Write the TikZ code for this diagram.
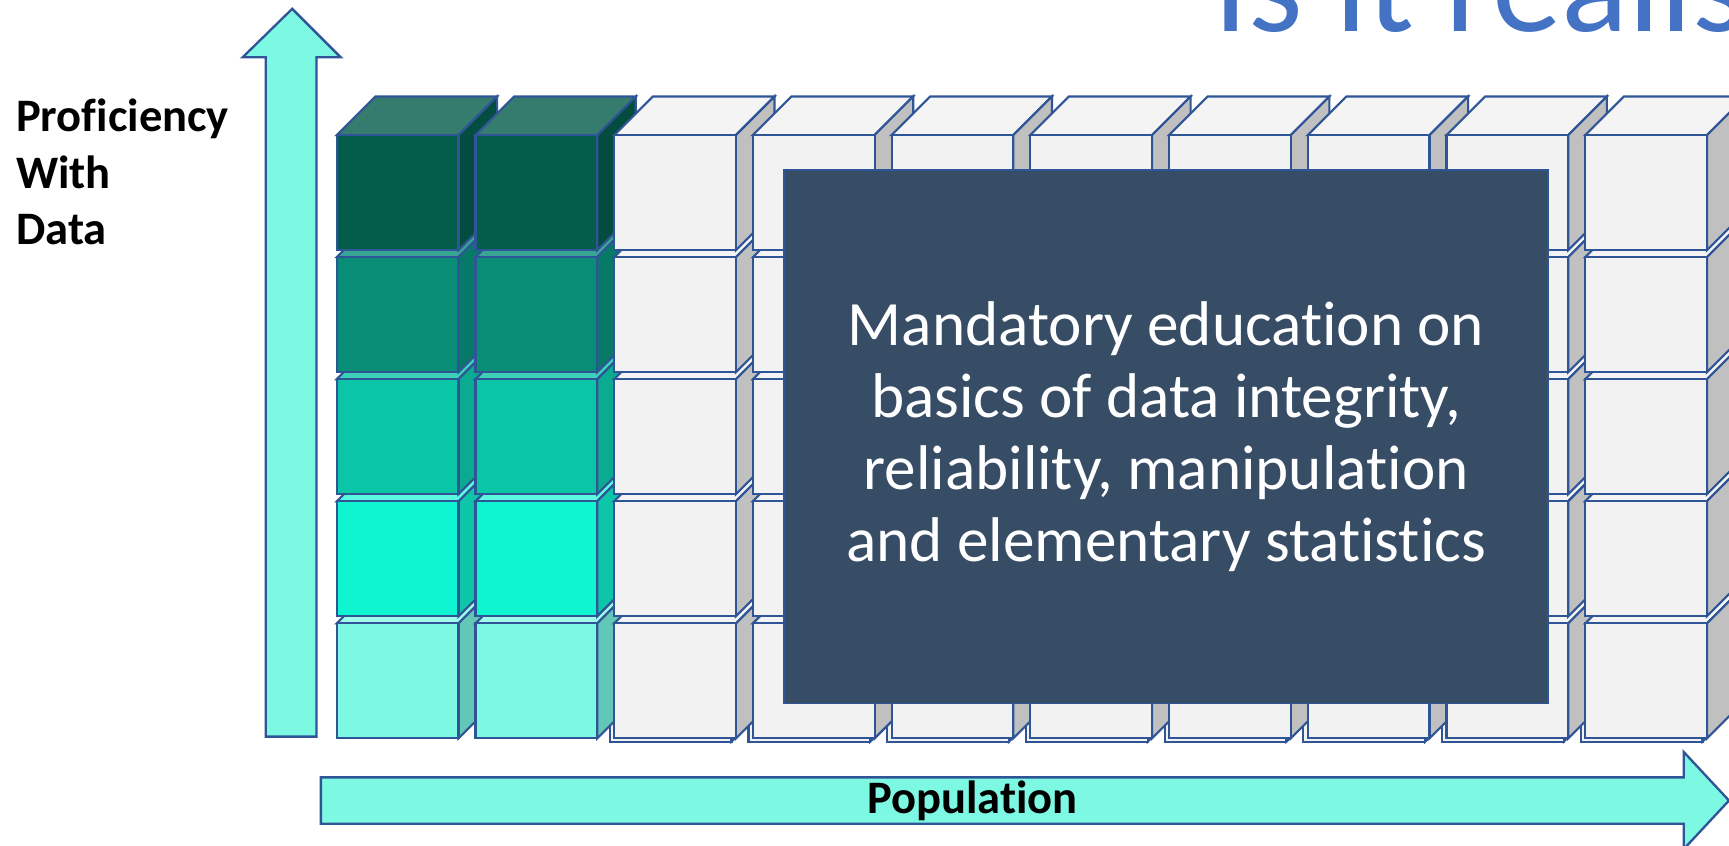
\documentclass[tikz,border=0pt]{standalone}
\usepackage{fontspec}
\setmainfont{Carlito}[Ligatures=CommonOff,RawFeature={-liga;-clig;-calt;-dlig}]

\definecolor{edgeblue}{HTML}{2F5597}
\definecolor{aqua}{HTML}{7DF9E3}
\definecolor{slate}{HTML}{374D66}
\definecolor{titleblue}{HTML}{4472C4}
% teal rows, top (a) to bottom (e): front / side / top
\definecolor{rowa}{HTML}{045C4B}\definecolor{rowas}{HTML}{034C3F}\definecolor{rowat}{HTML}{357C6F}
\definecolor{rowb}{HTML}{088E77}\definecolor{rowbs}{HTML}{077A67}\definecolor{rowbt}{HTML}{38A592}
\definecolor{rowc}{HTML}{0BC5A7}\definecolor{rowcs}{HTML}{0AAB90}\definecolor{rowct}{HTML}{3DD1B9}
\definecolor{rowd}{HTML}{10F5D1}\definecolor{rowds}{HTML}{0DC6A9}\definecolor{rowdt}{HTML}{5AF8DF}
\definecolor{rowe}{HTML}{7DF9E3}\definecolor{rowes}{HTML}{62C7B6}\definecolor{rowet}{HTML}{A0FBEC}
\definecolor{blank}{HTML}{F2F2F2}\definecolor{blanks}{HTML}{C0C0C0}\definecolor{blankt}{HTML}{F4F4F4}

\tikzset{>=latex,
  cubeline/.style={draw=edgeblue,line width=.55pt,line join=miter},
  axisarrow/.style={draw=edgeblue,fill=aqua,line width=.6pt},
  axislabel/.style={font=\fontsize{12}{14.6}\selectfont\bfseries,inner sep=0pt},
  titletext/.style={font=\fontsize{36}{40}\selectfont,text=titleblue,inner sep=0pt,anchor=base west},
  noticebox/.style={draw=edgeblue,fill=slate,line width=.5pt},
  noticetext/.style={font=\fontsize{16.3}{18.6}\selectfont,text=white,align=center,inner sep=0pt}
}

% front x, front top y, front, side, top colour
\newcommand{\drawcube}[5]{%
  \filldraw[cubeline,fill=#5] (#1,#2) -- ++(35,-35) -- ++(110.4,0) -- ++(-35,35) -- cycle;
  \filldraw[cubeline,fill=#4] (#1+110.4,#2) -- ++(35,-35) -- ++(0,104.3) -- ++(-35,35) -- cycle;
  \filldraw[cubeline,fill=#3] (#1,#2) rectangle ++(110.4,104.3);
}

\begin{document}
\begin{tikzpicture}[x=0.01cm,y=-0.01cm]
    \useasboundingbox (0,0) rectangle (1568,767);
    \clip (0,0) rectangle (1568,767);
    \node[titletext] (title) at (1100,29) {Is it realis};
    % axes
    \filldraw[axisarrow] (241,668) -- (241,52) -- (220,52) -- (265,8) -- (309,52) -- (287,52) -- (287,668) -- cycle;
    \filldraw[axisarrow] (291,705) -- (1527,705) -- (1527,682) -- (1568,726) -- (1527,770) -- (1527,747) -- (291,747) -- cycle;
    \node[axislabel,anchor=north west,align=left] (proficiency) at (14,89) {Proficiency\\With\\Data};
    \node[axislabel] (population) at (882,726) {Population};
    % loose cubes behind the bottom row
    \foreach \c in {2,...,9}{
       \drawcube{301.4+\c*125.8}{568.3}{blank}{blanks}{blankt}
    }
    % skilled columns
    \foreach \c in {0,1}{
       \foreach \r/\fc in {4/rowe,3/rowd,2/rowc,1/rowb,0/rowa}{
          \drawcube{305.4+\c*125.8}{122.5+\r*110.7}{\fc}{\fc s}{\fc t}
       }
    }
    % everybody else
    \foreach \c in {2,...,9}{
       \foreach \r in {4,3,2,1,0}{
          \drawcube{305.4+\c*125.8}{122.5+\r*110.7}{blank}{blanks}{blankt}
       }
    }
    \filldraw[noticebox] (711,154) rectangle (1404,638);
    \node[noticetext] (notice) at (1057.5,396) {Mandatory education on\\basics of data integrity,\\reliability, manipulation\\and elementary statistics};
\end{tikzpicture}
\end{document}
